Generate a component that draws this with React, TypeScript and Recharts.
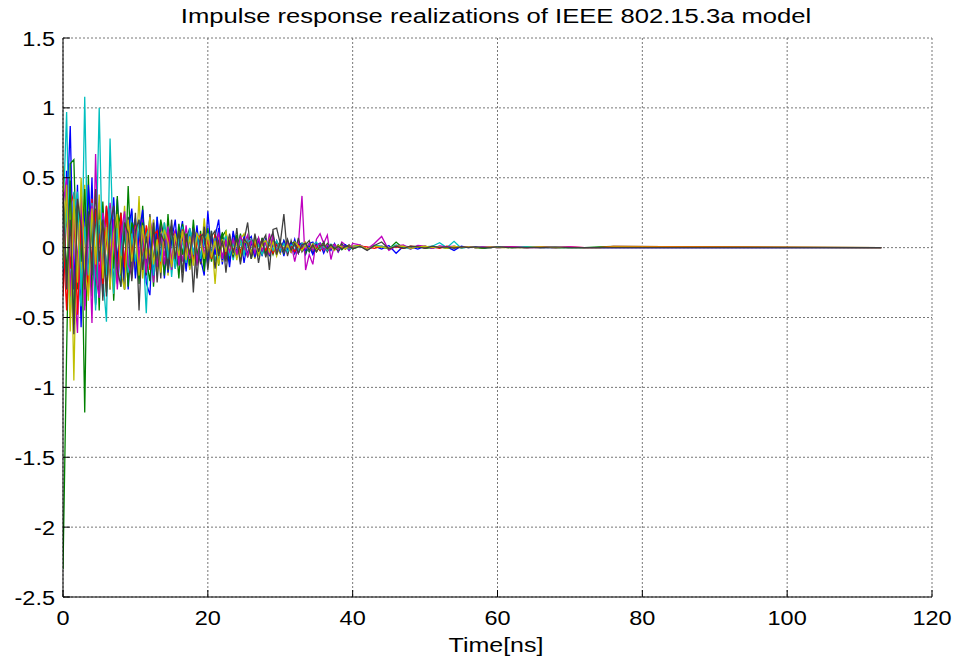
import { LineChart, Line, XAxis, YAxis, CartesianGrid } from "recharts";

// sample times (ns), shared by every realization
const TIME_NS = [
  0, 0.5, 1, 1.5, 2, 2.5, 3, 3.5, 4, 4.5, 5, 5.5, 6, 6.5, 7, 7.5, 8, 8.5, 9, 9.5,
  10, 10.5, 11, 11.5, 12, 12.5, 13, 13.5, 14, 14.5, 15, 15.5, 16, 16.5, 17, 17.5, 18, 18.5, 19, 19.5,
  20, 20.5, 21, 21.5, 22, 22.5, 23, 23.5, 24, 24.5, 25, 25.5, 26, 26.5, 27, 27.5, 28, 28.5, 29, 29.5,
  30, 30.5, 31, 31.5, 32, 32.5, 33, 33.5, 34, 34.5, 35, 35.5, 36, 36.5, 37, 37.5, 38, 38.5, 39, 39.5, 40,
  41, 42, 43, 44, 45, 46, 47, 48, 49, 50, 51, 52, 53, 54, 55, 56, 57, 58, 59, 60,
  62, 64, 66, 68, 70, 72, 74, 76, 113,
];

// long realizations (0 - 113 ns)
const REAL_BLUE = [
  0, 0.22, 0.87, -0.3, 0.45, -0.57, 0.31, -0.22, 0.5, -0.41, 0.18, -0.35, 0.29, 0.12, -0.28, 0.35, -0.16, 0.24, -0.3, 0.1,
  0.21, -0.12, 0.15, -0.25, -0.34, 0.2, -0.08, 0.17, -0.22, 0.09, 0.16, -0.14, 0.05, 0.19, -0.17, 0.11, -0.06, 0.13, -0.08, -0.2,
  0.26, -0.05, 0.08, 0.2, -0.12, 0.07, -0.1, 0.12, -0.04, 0.09, -0.11, 0.05, 0.08, -0.07, 0.04, -0.06, 0.07, -0.03, 0.05, -0.05,
  0.04, -0.06, 0.05, -0.03, 0.06, -0.04, 0.02, -0.05, 0.03, 0.04, -0.02, 0.03, -0.04, 0.02, -0.02, 0.03, -0.03, 0.01, 0.02, -0.02, 0.01,
  0.02, -0.015, 0.01, -0.01, 0.015, -0.04, 0.01, 0.005, -0.01, 0.01, -0.005, 0.01, 0.005, -0.02, 0.01, 0, 0.005, -0.005, 0.005, 0,
  0.005, 0, 0.005, 0, 0, 0, 0, 0, 0,
];

const REAL_GREEN = [
  -2.3, -0.74, 0.6, 0.63, -0.3, 0.4, -1.18, 0.52, -0.35, 0.28, -0.45, 0.33, -0.2, 0.3, -0.38, 0.12, 0.25, -0.3, 0.44, -0.15,
  0.18, -0.26, 0.3, -0.1, 0.22, -0.28, 0.15, 0.06, -0.2, 0.24, -0.12, 0.1, -0.22, 0.17, 0.04, -0.15, 0.2, -0.09, 0.12, -0.17,
  0.14, -0.06, 0.1, -0.13, 0.08, 0.12, -0.09, 0.05, -0.07, 0.1, -0.04, 0.06, -0.08, 0.03, 0.07, -0.05, 0.04, -0.06, 0.05, 0.02,
  -0.04, 0.05, -0.03, 0.03, 0.04, -0.02, 0.03, -0.04, 0.02, 0.01, -0.03, 0.02, 0.03, -0.02, 0.01, -0.01, 0.02, -0.015, 0.01, 0.015, -0.01,
  0.01, -0.01, 0.015, 0.005, -0.01, 0.04, -0.005, 0.005, 0.01, -0.005, 0, 0.005, -0.005, 0.005, 0, 0.005, 0, -0.005, 0, 0.005,
  0, 0.005, 0, 0, 0, 0, 0.005, 0.008, 0,
];

const REAL_RED = [
  0.1, -0.45, 0.3, 0.39, -0.25, 0.18, -0.32, 0.22, -0.1, 0.27, -0.2, 0.14, 0.05, -0.23, 0.19, -0.12, 0.21, -0.17, 0.08, 0.15,
  -0.14, 0.1, -0.18, 0.16, 0.04, -0.12, 0.13, -0.08, 0.11, -0.15, 0.07, 0.12, -0.1, 0.06, -0.09, 0.1, -0.05, 0.08, -0.11, 0.05,
  0.09, -0.07, 0.06, -0.04, 0.08, -0.06, 0.03, 0.05, -0.07, 0.04, -0.03, 0.06, -0.05, 0.02, 0.04, -0.03, 0.05, -0.02, 0.03, -0.04,
  0.03, -0.02, 0.04, -0.03, 0.02, 0.01, -0.02, 0.03, -0.01, 0.02, -0.02, 0.01, 0.02, -0.01, 0.015, -0.01, 0.01, 0.005, -0.01, 0.01, 0,
  0.01, 0.005, -0.005, 0.01, 0, 0.005, -0.005, 0.01, 0.005, 0, 0.005, -0.005, 0.01, 0.005, 0, 0.005, 0, 0.005, 0, 0.005,
  0.005, 0, 0.005, 0, 0.005, 0, 0, 0.008, 0,
];

const REAL_CYAN = [
  0.2, 0.97, -0.35, 0.4, -0.2, -0.42, 1.08, -0.3, 0.25, -0.15, 1.0, -0.2, -0.53, 0.78, -0.1, 0.2, -0.28, 0.16, -0.12, 0.26,
  -0.2, 0.12, 0.05, -0.47, 0.18, -0.1, 0.22, -0.16, 0.08, 0.14, -0.21, 0.1, -0.05, 0.15, -0.12, 0.07, 0.13, -0.09, 0.05, 0.1,
  -0.08, 0.12, -0.1, 0.04, 0.09, -0.06, 0.07, -0.09, 0.05, 0.03, -0.05, 0.08, -0.04, 0.06, -0.03, 0.04, 0.05, -0.04, 0.03, -0.02,
  0.04, -0.03, 0.02, 0.03, -0.02, 0.01, 0.02, -0.01, 0.03, -0.02, 0.01, 0.02, -0.01, 0.01, 0.025, -0.01, 0.005, 0.01, -0.005, 0.01, 0.005,
  0.01, -0.01, 0.015, 0.01, -0.005, 0.02, 0.005, -0.01, 0.01, 0.005, 0.01, 0.035, 0, 0.045, -0.005, 0.005, 0, 0.005, 0, 0.005,
  0, 0.005, 0, 0, 0, 0, 0, 0, 0,
];

const REAL_MAGENTA = [
  0.15, -0.3, 0.45, -0.2, -0.61, 0.3, -0.25, 0.2, -0.54, 0.67, -0.3, 0.15, -0.2, 0.32, 0.05, -0.26, 0.23, -0.1, 0.18, -0.22,
  0.14, -0.08, 0.2, -0.15, 0.1, -0.25, 0.06, 0.18, -0.12, 0.09, -0.16, 0.13, 0.05, -0.1, 0.16, -0.07, 0.1, -0.13, 0.08, 0.11,
  -0.09, 0.06, -0.05, 0.09, -0.07, 0.04, 0.08, -0.04, 0.06, -0.08, 0.03, 0.09, -0.05, 0.05, -0.03, 0.07, -0.06, 0.1, -0.04, 0.05,
  -0.03, 0.04, -0.05, 0.03, -0.1, 0.02, 0.37, -0.16, -0.05, -0.12, 0.06, 0.1, 0.03, 0.09, -0.085, 0.02, -0.03, 0.04, 0.02, -0.02, 0.03,
  0.02, -0.01, 0.03, 0.08, -0.02, 0.01, 0.02, -0.01, 0.015, 0.01, -0.005, 0.01, 0.005, 0.01, 0, 0.005, 0, 0.005, 0.005, 0,
  0.005, 0, 0, 0, 0.005, 0, 0, 0, 0,
];

const REAL_YELLOW = [
  0.58, -0.3, 0.4, -0.95, 0.35, -0.2, 0.45, -0.38, 0.25, -0.1, 0.32, -0.28, 0.2, 0.08, -0.33, 0.26, -0.12, 0.3, -0.2, 0.15,
  -0.16, 0.37, -0.22, 0.12, -0.06, 0.2, -0.18, 0.1, 0.15, -0.2, 0.08, -0.12, 0.14, -0.05, 0.1, -0.16, 0.07, 0.12, -0.1, 0.21,
  -0.05, 0.1, -0.26, 0.08, -0.1, 0.12, -0.04, 0.07, -0.09, 0.06, 0.1, -0.06, 0.04, -0.08, 0.05, 0.03, -0.05, 0.06, -0.03, 0.04,
  -0.04, 0.03, 0.05, -0.02, 0.03, -0.03, 0.02, 0.04, -0.02, 0.01, -0.03, 0.02, 0.01, -0.02, 0.02, 0.01, -0.01, 0.02, -0.01, 0.005, 0.01,
  0.015, -0.01, 0.01, 0.005, -0.005, 0.01, 0.01, -0.005, 0.005, 0.01, 0, 0.005, -0.005, 0.01, 0, 0.005, 0, 0, 0.005, 0,
  0, 0, 0.005, 0, 0, 0, 0, 0.005, 0,
];

const REAL_GRAY = [
  -0.2, 0.42, -0.5, 0.3, -0.15, 0.36, -0.42, 0.2, 0.1, -0.3, 0.25, -0.38, 0.3, -0.12, 0.2, -0.25, 0.15, -0.3, 0.22, -0.08,
  0.25, -0.45, 0.16, -0.2, 0.24, -0.1, 0.12, -0.22, 0.18, -0.05, 0.2, -0.15, 0.1, -0.25, 0.06, 0.14, -0.32, 0.1, -0.12, 0.15,
  -0.08, 0.12, -0.15, 0.05, 0.1, -0.18, 0.06, -0.07, 0.14, -0.1, 0.05, 0.18, -0.06, 0.08, -0.11, 0.04, 0.09, -0.16, 0.13, 0.14,
  0.03, 0.24, -0.06, 0.05, -0.04, 0.07, -0.03, 0.02, 0.05, -0.04, 0.03, -0.02, 0.04, -0.03, 0.02, 0.01, -0.02, 0.03, -0.01, 0.02, -0.01,
  0.01, -0.02, 0.015, 0.04, -0.01, 0.01, -0.005, 0.01, 0.005, -0.005, 0.01, 0, 0.005, -0.005, 0.005, 0, 0.005, 0, 0, 0.005,
  0, 0, 0, 0.005, 0, 0, 0, 0, 0,
];

// shorter realizations (0 - 40 ns)
const REAL_BLUE_2 = [
  -0.25, 0.55, -0.4, 0.2, -0.15, 0.38, -0.28, 0.45, 0.1, -0.36, 0.3, -0.2, 0.15, -0.3, 0.36, -0.1, 0.2, -0.25, 0.12, 0.28,
  -0.22, 0.1, 0.27, -0.15, 0.08, -0.2, 0.22, -0.1, 0.14, -0.18, 0.05, 0.2, -0.12, 0.09, -0.15, 0.13, -0.07, 0.16, -0.1, 0.06,
  -0.12, 0.08, -0.05, 0.14, -0.09, 0.06, -0.14, 0.1, 0.03, -0.06, 0.08, -0.05, 0.04, -0.07, 0.06, -0.03, 0.05, -0.05, 0.03, 0.04,
  -0.03, 0.05, -0.02, 0.03, -0.04, 0.02, 0.03, -0.02, 0.01, -0.05, 0.02, 0.03, -0.02, 0.01, -0.01, 0.02, -0.02, 0.01, 0.02, -0.01, 0.01,
];

const REAL_GREEN_2 = [
  0.35, -0.2, 0.48, -0.55, 0.3, -0.1, 0.42, -0.25, 0.2, -0.4, 0.25, 0.1, -0.32, 0.22, -0.15, 0.37, -0.2, 0.12, -0.28, 0.18,
  0.1, -0.22, 0.18, -0.08, -0.24, 0.15, -0.12, 0.2, 0.06, -0.16, 0.12, -0.1, 0.17, -0.05, 0.1, -0.13, 0.15, -0.06, 0.08, -0.12,
  0.09, -0.1, 0.06, -0.04, 0.11, -0.08, 0.05, -0.06, 0.09, -0.03, 0.04, -0.07, 0.06, 0.02, -0.05, 0.07, -0.04, 0.03, -0.05, 0.04,
  0.02, -0.04, 0.03, -0.02, 0.04, -0.03, 0.01, 0.02, -0.03, 0.02, -0.01, 0.02, -0.02, 0.03, -0.01, 0.01, -0.02, 0.01, 0.01, -0.01, 0.005,
];

const REAL_RED_2 = [
  -0.35, 0.25, -0.15, 0.3, -0.48, 0.2, 0.12, -0.3, 0.35, -0.18, 0.1, -0.26, 0.3, -0.12, 0.08, -0.22, 0.25, -0.14, 0.18, -0.08,
  0.16, -0.12, -0.05, 0.14, -0.16, 0.09, 0.12, -0.14, 0.05, 0.1, -0.12, 0.07, -0.09, 0.13, -0.06, 0.08, -0.1, 0.05, 0.09, -0.07,
  0.06, -0.08, 0.1, -0.05, 0.03, -0.06, 0.07, -0.03, 0.05, -0.04, 0.06, 0.02, -0.05, 0.04, -0.03, 0.05, -0.02, 0.03, -0.04, 0.02,
  0.03, -0.02, 0.02, 0.01, -0.03, 0.02, -0.01, 0.02, -0.02, 0.01, 0.01, -0.02, 0.015, -0.01, 0.01, 0.02, -0.01, 0.005, -0.005, 0.01, 0,
];

const REAL_CYAN_2 = [
  -0.15, 0.3, -0.5, 0.25, 0.4, -0.3, 0.15, -0.2, 0.32, -0.45, 0.2, 0.1, -0.2, 0.28, -0.33, 0.14, -0.06, 0.22, -0.18, 0.1,
  -0.1, 0.2, -0.14, 0.09, 0.16, -0.2, 0.05, -0.1, 0.18, -0.08, 0.12, -0.15, 0.07, 0.04, -0.11, 0.14, -0.05, 0.1, -0.08, 0.06,
  0.1, -0.05, 0.07, -0.09, 0.04, 0.08, -0.06, 0.03, -0.04, 0.07, -0.05, 0.04, 0.06, -0.03, 0.02, -0.05, 0.04, 0.03, -0.02, 0.05,
  -0.02, 0.03, -0.03, 0.02, 0.01, -0.02, 0.03, 0.01, -0.02, 0.02, 0.04, -0.01, 0.01, -0.02, 0.02, 0.01, -0.01, 0.01, 0.005, -0.01, 0.005,
];

const REAL_MAGENTA_2 = [
  0.3, 0.5, -0.35, 0.25, -0.12, 0.4, -0.45, 0.15, 0.3, -0.2, -0.36, 0.25, 0.1, -0.15, 0.2, -0.3, 0.1, 0.26, -0.12, -0.2,
  0.15, -0.09, 0.12, -0.18, 0.2, 0.05, -0.14, 0.1, -0.06, 0.15, -0.1, 0.08, -0.13, 0.1, 0.04, -0.08, 0.12, -0.1, 0.06, -0.04,
  0.08, -0.06, 0.04, 0.1, -0.08, 0.05, -0.03, 0.06, -0.05, 0.08, 0.03, -0.06, 0.05, -0.04, 0.07, -0.02, 0.04, -0.05, 0.09, -0.03,
  0.02, -0.03, 0.04, -0.02, 0.03, -0.04, 0.02, -0.01, 0.03, -0.02, 0.01, 0.03, -0.02, 0.02, -0.01, 0.02, -0.015, 0.01, 0.01, -0.005, 0.01,
];

const REAL_YELLOW_2 = [
  -0.1, 0.45, -0.6, 0.35, -0.25, 0.5, -0.15, -0.35, 0.28, -0.12, 0.38, -0.22, 0.15, -0.3, 0.1, 0.24, -0.18, -0.3, 0.2, -0.1,
  0.12, -0.2, 0.16, -0.08, 0.22, -0.12, 0.06, -0.18, 0.13, 0.04, -0.14, 0.1, -0.06, 0.12, -0.09, 0.08, -0.13, 0.1, 0.05, -0.08,
  0.1, -0.07, 0.05, -0.12, 0.06, -0.03, 0.09, -0.05, 0.04, -0.07, 0.05, 0.03, -0.04, 0.06, -0.05, 0.03, 0.05, -0.03, 0.04, -0.06,
  0.03, -0.02, 0.02, -0.03, 0.04, 0.01, -0.02, 0.02, -0.01, 0.03, -0.02, 0.01, 0.02, -0.01, 0.01, -0.02, 0.015, 0.005, -0.01, 0.01, 0,
];

const REAL_GRAY_2 = [
  0.4, -0.3, 0.2, -0.62, 0.35, 0.15, -0.3, 0.26, -0.2, 0.42, -0.1, 0.2, -0.35, 0.16, 0.3, -0.15, -0.28, 0.18, 0.1, -0.24,
  0.12, 0.2, -0.16, 0.08, -0.12, 0.18, -0.25, 0.1, 0.04, -0.15, 0.14, -0.08, 0.12, -0.18, 0.09, -0.05, 0.14, -0.22, 0.08, 0.1,
  -0.16, 0.08, 0.12, -0.06, 0.05, -0.1, 0.1, -0.04, 0.07, -0.12, 0.06, 0.03, -0.08, 0.1, -0.03, 0.06, -0.07, 0.05, 0.11, -0.05,
  0.04, -0.03, 0.06, -0.02, 0.03, -0.04, 0.02, 0.03, -0.02, 0.02, -0.03, 0.01, 0.02, -0.01, 0.02, -0.01, 0.01, -0.01, 0.01, 0.005, 0,
];

const X_TICKS = [0, 20, 40, 60, 80, 100, 120];
const Y_TICKS = [-2.5, -2, -1.5, -1, -0.5, 0, 0.5, 1, 1.5];

// matlab's default line colour order, cycled
const SERIES = [
  { key: "b1", color: "#0000ff", values: REAL_BLUE },
  { key: "g1", color: "#008000", values: REAL_GREEN },
  { key: "r1", color: "#ff0000", values: REAL_RED },
  { key: "c1", color: "#00bfbf", values: REAL_CYAN },
  { key: "m1", color: "#bf00bf", values: REAL_MAGENTA },
  { key: "y1", color: "#bfbf00", values: REAL_YELLOW },
  { key: "k1", color: "#404040", values: REAL_GRAY },
  { key: "b2", color: "#0000ff", values: REAL_BLUE_2 },
  { key: "g2", color: "#008000", values: REAL_GREEN_2 },
  { key: "r2", color: "#ff0000", values: REAL_RED_2 },
  { key: "c2", color: "#00bfbf", values: REAL_CYAN_2 },
  { key: "m2", color: "#bf00bf", values: REAL_MAGENTA_2 },
  { key: "y2", color: "#bfbf00", values: REAL_YELLOW_2 },
  { key: "k2", color: "#404040", values: REAL_GRAY_2 },
];

const rows = TIME_NS.map((t, i) => {
  const row: Record<string, number | undefined> = { t };
  SERIES.forEach((s) => {
    row[s.key] = s.values[i];
  });
  return row;
});

const FONT = '"Liberation Sans", Arial, sans-serif';
const TICK_LEN = 7;

function BottomTick({ x, y, payload }: any) {
  return (
    <g>
      <line x1={x} x2={x} y1={y} y2={y - TICK_LEN} stroke="#000" />
      <text
        transform={`translate(${x},${y + 28}) scale(1.12,1)`}
        textAnchor="middle"
        fontSize={21}
        fontFamily={FONT}
        fill="#000"
      >
        {payload.value}
      </text>
    </g>
  );
}

function LeftTick({ x, y, payload }: any) {
  return (
    <g>
      <line x1={x} x2={x + TICK_LEN} y1={y} y2={y} stroke="#000" />
      <text
        transform={`translate(${x - 8},${y + 7.5}) scale(1.12,1)`}
        textAnchor="end"
        fontSize={21}
        fontFamily={FONT}
        fill="#000"
      >
        {payload.value}
      </text>
    </g>
  );
}

function TopTick({ x, y }: any) {
  return <line x1={x} x2={x} y1={y} y2={y + TICK_LEN} stroke="#000" />;
}

function RightTick({ x, y }: any) {
  return <line x1={x} x2={x - TICK_LEN} y1={y} y2={y} stroke="#000" />;
}

export default function App() {
  return (
    <div
      style={{
        position: "absolute",
        left: 0,
        top: 0,
        width: 967,
        height: 663,
        background: "#fff",
        fontFamily: FONT,
      }}
    >
      <div
        style={{
          position: "absolute",
          left: 496,
          top: 6,
          fontSize: 20,
          lineHeight: "20px",
          whiteSpace: "nowrap",
          transform: "translateX(-50%) scaleX(1.28)",
        }}
      >
        Impulse response realizations of IEEE 802.15.3a model
      </div>
      <LineChart
        width={967}
        height={663}
        data={rows}
        margin={{ top: 38, right: 35, bottom: 26, left: 4 }}
      >
        <CartesianGrid stroke="#777" strokeDasharray="2 2" />
        <XAxis
          dataKey="t"
          type="number"
          domain={[0, 120]}
          ticks={X_TICKS}
          height={40}
          tickSize={0}
          tickMargin={0}
          tickLine={false}
          tick={<BottomTick />}
          axisLine={{ stroke: "#000" }}
          allowDataOverflow
        />
        <XAxis
          xAxisId="top"
          orientation="top"
          type="number"
          domain={[0, 120]}
          ticks={X_TICKS}
          height={0}
          tickSize={0}
          tickMargin={0}
          tickLine={false}
          tick={<TopTick />}
          axisLine={{ stroke: "#000" }}
          allowDataOverflow
        />
        <YAxis
          type="number"
          domain={[-2.5, 1.5]}
          ticks={Y_TICKS}
          width={59}
          tickSize={0}
          tickMargin={0}
          tickLine={false}
          tick={<LeftTick />}
          axisLine={{ stroke: "#000" }}
          allowDataOverflow
        />
        <YAxis
          yAxisId="right"
          orientation="right"
          type="number"
          domain={[-2.5, 1.5]}
          ticks={Y_TICKS}
          width={0}
          tickSize={0}
          tickMargin={0}
          tickLine={false}
          tick={<RightTick />}
          axisLine={{ stroke: "#000" }}
          allowDataOverflow
        />
        {SERIES.map((s) => (
          <Line
            key={s.key}
            type="linear"
            dataKey={s.key}
            stroke={s.color}
            strokeWidth={1.3}
            dot={false}
            activeDot={false}
            isAnimationActive={false}
          />
        ))}
      </LineChart>
      <div
        style={{
          position: "absolute",
          left: 496,
          top: 634,
          fontSize: 21,
          lineHeight: "21px",
          whiteSpace: "nowrap",
          transform: "translateX(-50%) scaleX(1.19)",
        }}
      >
        Time[ns]
      </div>
    </div>
  );
}
